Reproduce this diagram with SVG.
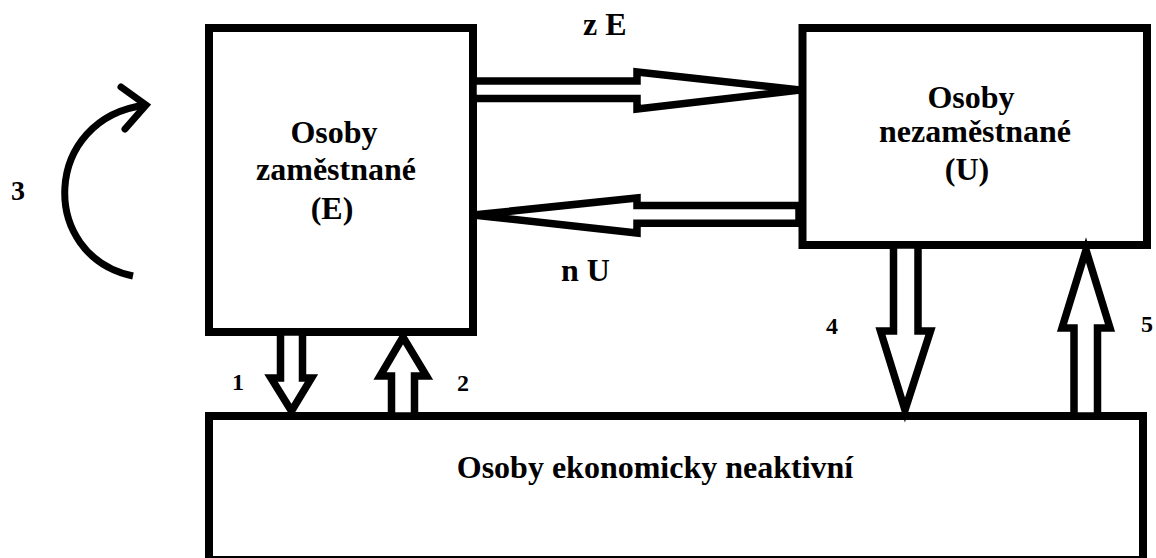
<svg xmlns="http://www.w3.org/2000/svg" width="1156" height="558" viewBox="0 0 1156 558">
<style>
.box{fill:#fff;stroke:#000;stroke-width:8}
.fat{fill:#fff;stroke:#000;stroke-width:7.5;stroke-linejoin:miter}
.t{font-family:"Liberation Serif","Times New Roman",serif;font-weight:bold;font-size:32px;fill:#000}
.c{text-anchor:middle}
.n{font-family:"Liberation Serif","Times New Roman",serif;font-weight:bold;font-size:24px;fill:#000}
.curve{fill:none;stroke:#000;stroke-width:7;stroke-linecap:butt}
</style>
<rect width="1156" height="558" fill="#fff"/>
<g id="node-E">
<rect class="box" x="209" y="28" width="264" height="304"/>
<text class="t c" x="334" y="143">Osoby</text>
<text class="t c" x="336" y="180">zaměstnané</text>
<text class="t c" x="332" y="219">(E)</text>
</g>
<g id="node-U">
<rect class="box" x="802.5" y="28" width="344.5" height="217"/>
<text class="t c" x="971" y="108">Osoby</text>
<text class="t c" x="975" y="142">nezaměstnané</text>
<text class="t c" x="967" y="180">(U)</text>
</g>
<g id="node-N">
<rect class="box" x="209" y="416" width="934" height="144"/>
<text class="t c" x="655" y="478">Osoby ekonomicky neaktivní</text>
</g>
<g id="connectors">
<polygon class="fat" points="473,81 637,81 637,72 800,90 637,109 637,98.5 473,98.5"/>
<polygon class="fat" points="473,215 637,198 637,205.5 799,205.5 799,223.3 637,223.3 637,233"/>
<polygon class="fat" points="280.5,332 280.5,378 271,378 291.5,411 311.5,378 302.5,378 302.5,332"/>
<polygon class="fat" points="391.5,416 391.5,376 380,376 403,337 426.5,376 414.5,376 414.5,416"/>
<polygon class="fat" points="893.5,245 893.5,331 880.5,331 905,410 930.5,331 918,331 918,245"/>
<polygon class="fat" points="1074,416 1074,328 1062,328 1086,250 1110,328 1097.5,328 1097.5,416"/>
<path class="curve" d="M133,276 C38,256 42,118 146,105"/>
<polyline class="curve" points="121,87 146,105 125,129" style="stroke-linecap:round;stroke-linejoin:miter"/>
</g>
<g id="labels">
<text class="t" x="583" y="35">z E</text>
<text class="t" x="561" y="281">n U</text>
<text class="n" x="11" y="200" style="font-size:28px">3</text>
<text class="n" x="232" y="390">1</text>
<text class="n" x="457" y="391">2</text>
<text class="n" x="826" y="334">4</text>
<text class="n" x="1141" y="332">5</text>
</g>
</svg>
